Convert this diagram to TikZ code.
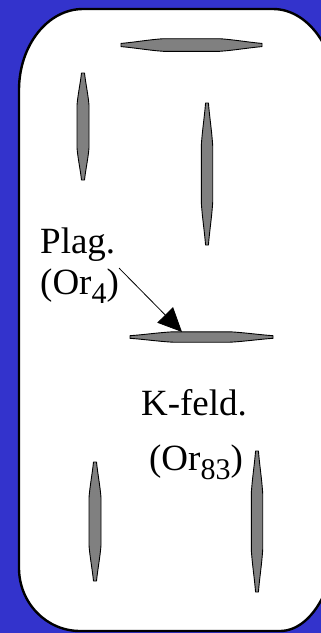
\documentclass[tikz,border=0pt]{standalone}
\usepackage{fontspec}
\setmainfont{Liberation Serif}
\usetikzlibrary{arrows.meta,positioning}
\definecolor{slideblue}{RGB}{51,51,204}
\definecolor{lamgray}{RGB}{128,128,128}
\newcommand{\phsub}[1]{\raisebox{-9pt}{\fontsize{30}{30}\selectfont #1}}

\begin{document}
\begin{tikzpicture}[x=1pt, y=-1pt, >={Triangle[length=24pt, width=22pt]}]
\tikzset{
  grain/.style={draw=black, line width=2.4pt, fill=white},
  lamfill/.style={draw=black, line width=0.9pt, fill=lamgray, line join=round},
  phase/.style={inner sep=0pt, font=\fontsize{37}{44}\selectfont},
  lamella/.pic={
    \draw[lamfill] (-1,0.25) .. controls (-0.8,0.45) and (-0.6,0.85) .. (-0.4,1) -- (0.4,1)
      .. controls (0.6,0.85) and (0.8,0.45) .. (1,0.25) -- (1,-0.25)
      .. controls (0.8,-0.45) and (0.6,-0.85) .. (0.4,-1) -- (-0.4,-1)
      .. controls (-0.6,-0.85) and (-0.8,-0.45) .. (-1,-0.25) -- cycle;
  }
}
\useasboundingbox (0,0) rectangle (321,633);
\fill[slideblue] (0,0) rectangle (321,633);
\draw[grain] (83,9) -- (273,9) .. controls (308.3,9) and (337,49.3) .. (337,99)
  -- (337,531) .. controls (337,586.2) and (311.5,631) .. (280,631)
  -- (80,631) .. controls (46.3,631) and (19,602.8) .. (19,568)
  -- (19,90) .. controls (19,45.3) and (47.7,9) .. (83,9) -- cycle;

% exsolution lamellae
\pic[xscale=70.5, yscale=6.3] at (191.5,45) {lamella};
\pic[rotate=90, xscale=53.5, yscale=6] at (83,126.5) {lamella};
\pic[rotate=90, xscale=71, yscale=5.7] at (207,174) {lamella};
\pic[xscale=71.5, yscale=5.2] at (201.5,337) {lamella};
\pic[rotate=90, xscale=59.5, yscale=6] at (95,521.5) {lamella};
\pic[rotate=90, xscale=70.5, yscale=5.7] at (257,521.5) {lamella};

% labels
\node[phase, anchor=base west] (plag) at (40,253) {Plag.};
\node[phase, anchor=base west] (plagor) at (40,294) {(Or\phsub{4})};
\node[phase, anchor=base] (kfeld) at (194,415) {K-feld.};
\node[phase, anchor=base] (kfeldor) at (196,470) {(Or\phsub{83})};

\coordinate (plagtop) at (182,332);
\draw[->, line width=0.8pt] (plagor.north east) -- (plagtop);
\end{tikzpicture}
\end{document}
